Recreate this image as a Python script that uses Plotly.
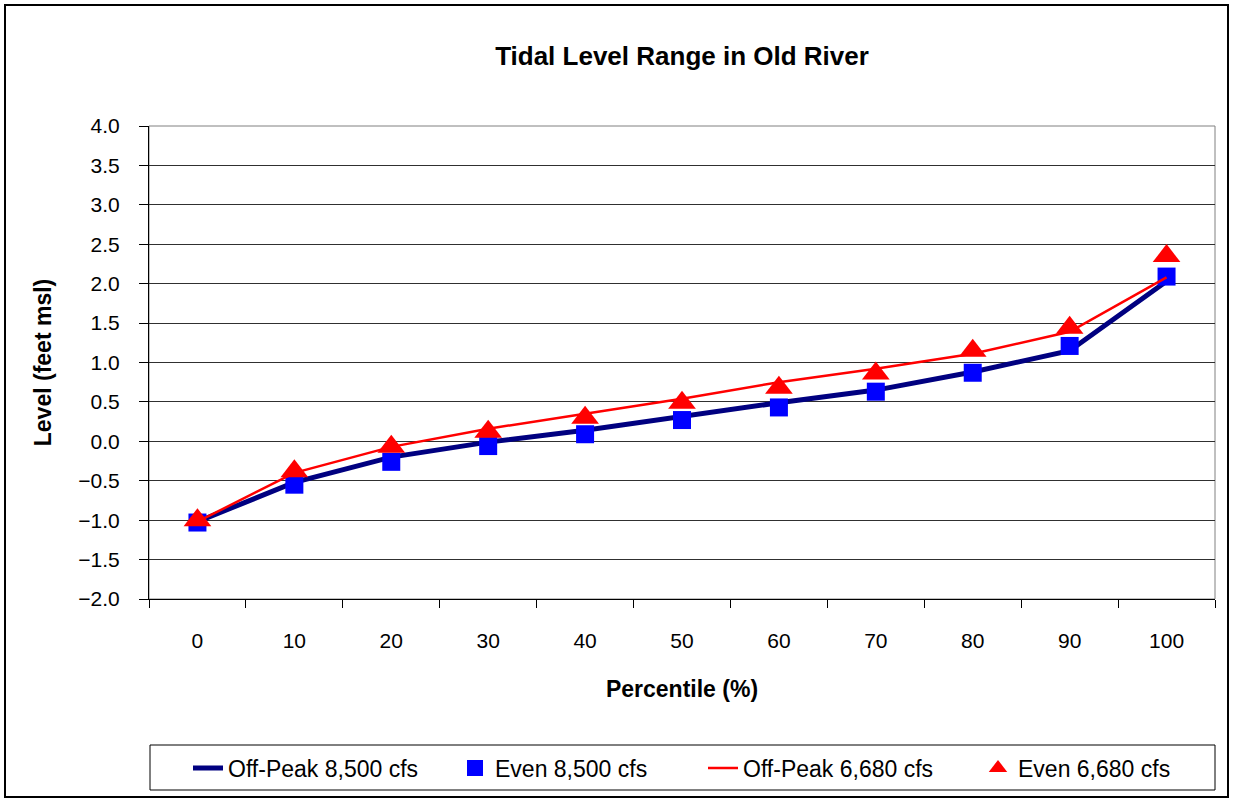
import plotly.graph_objects as go

# Percentile categories and tidal levels (feet msl)
percentiles = ["0", "10", "20", "30", "40", "50", "60", "70", "80", "90", "100"]
offpeak_8500 = [-1.02, -0.52, -0.20, -0.01, 0.14, 0.32, 0.49, 0.65, 0.88, 1.15, 2.03]
even_8500 = [-1.03, -0.55, -0.26, -0.06, 0.09, 0.27, 0.43, 0.63, 0.87, 1.21, 2.09]
offpeak_6680 = [-1.02, -0.40, -0.07, 0.16, 0.35, 0.54, 0.75, 0.92, 1.11, 1.39, 2.08]
even_6680 = [-1.00, -0.38, -0.07, 0.12, 0.30, 0.49, 0.68, 0.86, 1.15, 1.44, 2.35]

W, H = 1233, 801
ML, MR, MT, MB = 149, 18, 126, 202
PW, PH = W - ML - MR, H - MT - MB

FONT = "Liberation Sans, Arial, sans-serif"


def px_x(p):
    return (p - ML) / PW


def px_y(p):
    return 1 - (p - MT) / PH


fig = go.Figure()
fig.add_trace(go.Scatter(x=percentiles, y=offpeak_8500, mode="lines",
                         name="Off-Peak 8,500 cfs", legend="legend",
                         line=dict(color="#000080", width=5)))
fig.add_trace(go.Scatter(x=percentiles, y=even_8500, mode="markers",
                         name="Even 8,500 cfs", legend="legend2",
                         marker=dict(symbol="square", color="#0000FF", size=18,
                                     line=dict(width=0))))
fig.add_trace(go.Scatter(x=percentiles, y=offpeak_6680, mode="lines",
                         name="Off-Peak 6,680 cfs", legend="legend3",
                         line=dict(color="#FF0000", width=2.5)))
fig.add_trace(go.Scatter(x=percentiles, y=even_6680, mode="markers",
                         name="Even 6,680 cfs", legend="legend4",
                         marker=dict(symbol="triangle-up", color="#FF0000", size=24,
                                     line=dict(width=0))))

shapes = [
    # outer chart border
    dict(type="rect", xref="paper", yref="paper",
         x0=px_x(5), x1=px_x(1228), y0=px_y(797), y1=px_y(5),
         line=dict(color="black", width=2), layer="below"),
    # plot area border
    dict(type="rect", xref="paper", yref="paper", x0=0, x1=1, y0=0, y1=1,
         line=dict(color="#808080", width=1), layer="below"),
    # legend box
    dict(type="rect", xref="paper", yref="paper",
         x0=px_x(150), x1=px_x(1215), y0=px_y(790), y1=px_y(745),
         line=dict(color="black", width=1), layer="below"),
]


def legend_at(text_left):
    return dict(orientation="h", x=px_x(text_left - 42), xanchor="left",
                y=px_y(768), yanchor="middle", font=dict(size=23),
                bgcolor="rgba(0,0,0,0)", borderwidth=0, itemsizing="trace")


fig.update_layout(
    width=W, height=H,
    margin=dict(l=ML, r=MR, t=MT, b=MB),
    paper_bgcolor="white", plot_bgcolor="white",
    font=dict(family=FONT, size=21, color="black"),
    title=dict(text="<b>Tidal Level Range in Old River</b>",
               font=dict(family=FONT, size=26, color="black"),
               x=682 / W, xanchor="center", xref="container",
               y=1 - 56 / H, yanchor="middle", yref="container"),
    xaxis=dict(type="category", range=[-0.5, 10.5],
               showline=True, linecolor="black", linewidth=1,
               ticks="outside", tickson="boundaries", ticklen=8,
               tickcolor="black", showgrid=False, zeroline=False,
               tickfont=dict(size=21), ticklabelstandoff=23,
               title=dict(text="<b>Percentile (%)</b>", font=dict(size=23),
                          standoff=29)),
    yaxis=dict(range=[-2, 4], dtick=0.5, tickformat=".1f",
               showline=True, linecolor="black", linewidth=1,
               ticks="outside", ticklen=9, tickcolor="black",
               showgrid=True, gridcolor="#303030", gridwidth=1,
               zeroline=False, tickfont=dict(size=21), ticklabelstandoff=15,
               title=dict(text="<b>Level (feet msl)</b>", font=dict(size=23),
                          standoff=20)),
    showlegend=True,
    legend=legend_at(230),
    legend2=legend_at(497),
    legend3=legend_at(745),
    legend4=legend_at(1020),
    shapes=shapes,
)

fig.write_html("out.html")
